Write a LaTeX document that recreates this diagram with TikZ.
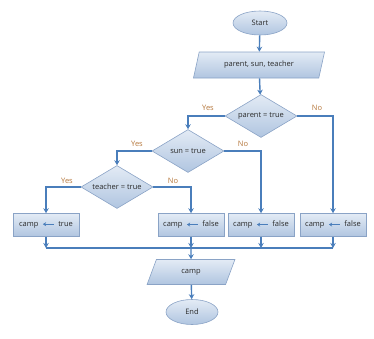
\documentclass[tikz,border=0pt]{standalone}
\usepackage{fontspec}
\setmainfont{Open Sans}
\usetikzlibrary{shapes.geometric,arrows.meta}
\definecolor{lineblue}{HTML}{4A7EBB}
\definecolor{edgeblue}{HTML}{8AA3C6}
\definecolor{filltop}{HTML}{E3EBF5}
\definecolor{fillbot}{HTML}{B0C5E0}
\definecolor{lbl}{HTML}{B5773C}
\definecolor{txt}{HTML}{2A2A2A}
\tikzset{
  shapebase/.style={draw=edgeblue, line width=0.6pt, top color=filltop, bottom color=fillbot, text=txt, font=\fontsize{7.5}{9}\selectfont, inner sep=1pt},
  term/.style={shapebase, ellipse, minimum width=54pt, minimum height=24pt},
  io/.style={shapebase, trapezium, trapezium left angle=70, trapezium right angle=110, trapezium stretches=true, minimum width=132pt, minimum height=26pt},
  decision/.style={shapebase, diamond, aspect=1.65, minimum width=72pt, minimum height=43pt, inner sep=0pt},
  assign/.style={shapebase, rectangle, minimum width=66pt, minimum height=23pt},
  flow/.style={draw=lineblue, line width=1.4pt, -{Stealth[length=5pt,width=5.5pt]}},
  plain/.style={draw=lineblue, line width=1.4pt},
  yn/.style={text=lbl, font=\fontsize{7.5}{9}\selectfont, inner sep=1pt}
}
\newcommand{\asg}[1]{camp\hspace{4pt}\tikz[baseline={(0pt,-2.4pt)}]\draw[lineblue,line width=0.9pt,{Stealth[length=3.2pt,width=4pt]}-] (0pt,0pt) -- (11pt,0pt);\hspace{4pt}#1}
\begin{document}
\begin{tikzpicture}[x=1pt,y=-1pt]
\useasboundingbox (0,0) rectangle (374,338);
\node[term] (start) at (260,23) {Start};
\node[io] (inp) at (259,65) {parent, sun, teacher};
\node[decision] (d1) at (261,116) {parent = true};
\node[decision] (d2) at (188,151) {sun = true};
\node[decision] (d3) at (117,187) {teacher = true};
\node[assign] (b1) at (46,225) {\asg{true}};
\node[assign] (b2) at (191,225) {\asg{false}};
\node[assign] (b3) at (261,225) {\asg{false}};
\node[assign] (b4) at (333,225) {\asg{false}};
\coordinate (m) at (191,248);
\node[io, minimum width=88pt, minimum height=25pt] (out) at (191,272) {camp};
\node[term, minimum width=52pt, minimum height=25pt] (end) at (192,312) {End};

\path[flow] (start) -- (inp);
\path[flow] (inp) -- (d1);
\path[flow] (d1.west) -| (d2.north);
\path[flow] (d1.east) -| (b4.north);
\path[flow] (d2.west) -| (d3.north);
\path[flow] (d2.east) -| (b3.north);
\path[flow] (d3.west) -| (b1.north);
\path[flow] (d3.east) -| (b2.north);
\node[yn] (y1) at (208,108) {Yes};
\node[yn] (n1) at (317,108) {No};
\node[yn] (y2) at (137,144) {Yes};
\node[yn] (n2) at (243,144) {No};
\node[yn] (y3) at (67,181) {Yes};
\node[yn] (n3) at (173,181) {No};

\path[flow] (b1.south) -- (b1.south |- m);
\path[flow] (b2.south) -- (b2.south |- m);
\path[flow] (b3.south) -- (b3.south |- m);
\path[flow] (b4.south) -- (b4.south |- m);
\path[plain] (b1.south |- m) -- (b4.south |- m);
\path[flow] (m) -- (out.north);
\path[flow] (out) -- (end);
\end{tikzpicture}
\end{document}
